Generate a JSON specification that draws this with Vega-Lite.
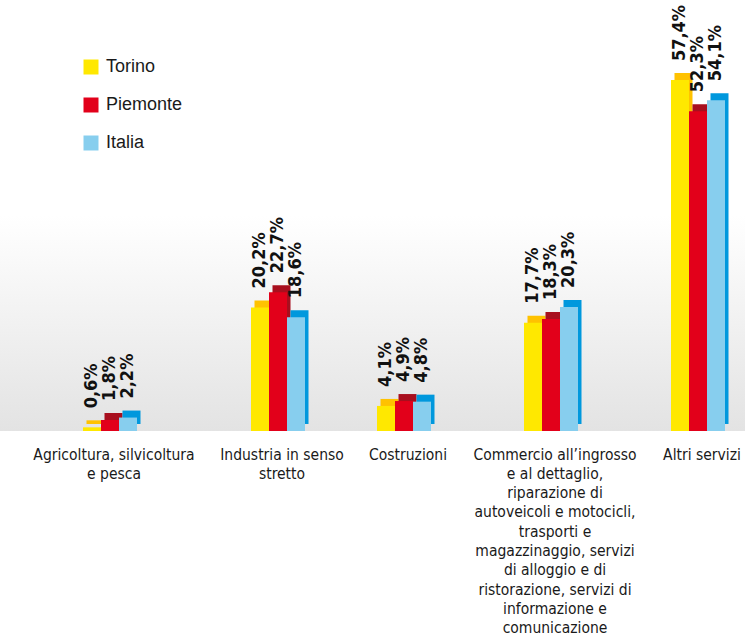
{
  "$schema": "https://vega.github.io/schema/vega-lite/v6.json",
  "width": 745,
  "height": 431,
  "padding": {"left": 0, "top": 0, "right": 0, "bottom": 206},
  "autosize": {"type": "none"},
  "background": "#ffffff",
  "view": {
    "stroke": null,
    "fill": {"gradient": "linear", "x1": 0, "y1": 0, "x2": 0, "y2": 1,
      "stops": [{"offset": 0, "color": "#ffffff"}, {"offset": 0.5, "color": "#ffffff"}, {"offset": 1, "color": "#e3e3e3"}]}
  },
  "data": {
    "values": [
      {"cat": "Agricoltura, silvicoltura|e pesca", "series": "Torino", "value": 0.6},
      {"cat": "Agricoltura, silvicoltura|e pesca", "series": "Piemonte", "value": 1.8},
      {"cat": "Agricoltura, silvicoltura|e pesca", "series": "Italia", "value": 2.2},
      {"cat": "Industria in senso|stretto", "series": "Torino", "value": 20.2},
      {"cat": "Industria in senso|stretto", "series": "Piemonte", "value": 22.7},
      {"cat": "Industria in senso|stretto", "series": "Italia", "value": 18.6},
      {"cat": "Costruzioni", "series": "Torino", "value": 4.1},
      {"cat": "Costruzioni", "series": "Piemonte", "value": 4.9},
      {"cat": "Costruzioni", "series": "Italia", "value": 4.8},
      {"cat": "Commercio all’ingrosso|e al dettaglio,|riparazione di|autoveicoli e motocicli,|trasporti e|magazzinaggio, servizi|di alloggio e di|ristorazione, servizi di|informazione e|comunicazione", "series": "Torino", "value": 17.7},
      {"cat": "Commercio all’ingrosso|e al dettaglio,|riparazione di|autoveicoli e motocicli,|trasporti e|magazzinaggio, servizi|di alloggio e di|ristorazione, servizi di|informazione e|comunicazione", "series": "Piemonte", "value": 18.3},
      {"cat": "Commercio all’ingrosso|e al dettaglio,|riparazione di|autoveicoli e motocicli,|trasporti e|magazzinaggio, servizi|di alloggio e di|ristorazione, servizi di|informazione e|comunicazione", "series": "Italia", "value": 20.3},
      {"cat": "Altri servizi", "series": "Torino", "value": 57.4},
      {"cat": "Altri servizi", "series": "Piemonte", "value": 52.3},
      {"cat": "Altri servizi", "series": "Italia", "value": 54.1}
    ]
  },
  "transform": [
    {"calculate": "replace(format(datum.value, '.1f'), '.', ',') + '%'", "as": "label"}
  ],
  "encoding": {
    "x": {
      "field": "cat", "type": "nominal",
      "scale": {
        "domain": [
          "Agricoltura, silvicoltura|e pesca", "~1", "~2", "~3", "~4", "~5", "~6", "~7",
          "Industria in senso|stretto", "~9", "~10", "~11", "~12", "~13",
          "Costruzioni", "~15", "~16", "~17", "~18", "~19", "~20",
          "Commercio all’ingrosso|e al dettaglio,|riparazione di|autoveicoli e motocicli,|trasporti e|magazzinaggio, servizi|di alloggio e di|ristorazione, servizi di|informazione e|comunicazione",
          "~22", "~23", "~24", "~25", "~26", "~27",
          "Altri servizi"
        ],
        "range": [99.5, 708.5],
        "paddingInner": 0, "paddingOuter": 0
      },
      "axis": {
        "title": null, "labelAngle": 0, "domain": false, "ticks": false, "grid": false,
        "labelFont": "DejaVu Sans Condensed", "labelFontSize": 15.5, "labelColor": "#1a1a1a",
        "labelLineHeight": 19.3, "labelPadding": 16, "labelOffset": 4, "labelLimit": 400,
        "labelBound": false, "labelOverlap": false, "labelFlush": false,
        "labelExpr": "indexof(datum.label, '~') == 0 ? '' : split(datum.label, '|')"
      }
    },
    "y": {"field": "value", "type": "quantitative", "scale": {"domain": [0, 70.5], "nice": false, "zero": true}, "axis": null}
  },
  "layer": [
    {
      "mark": {"type": "bar", "yOffset": -7},
      "encoding": {
        "xOffset": {"field": "series", "type": "nominal", "sort": ["Torino", "Piemonte", "Italia"], "scale": {"range": [-13, 41], "paddingInner": 0, "paddingOuter": 0}},
        "color": {"field": "series", "type": "nominal",
          "scale": {"domain": ["Torino", "Piemonte", "Italia"], "range": ["#FFC200", "#A80F1E", "#0098DD"]},
          "legend": null}
      }
    },
    {
      "encoding": {
        "xOffset": {"field": "series", "type": "nominal", "sort": ["Torino", "Piemonte", "Italia"], "scale": {"range": [-16.5, 37.5], "paddingInner": 0, "paddingOuter": 0}}
      },
      "layer": [
        {
          "mark": {"type": "bar"},
          "encoding": {
            "color": {"field": "series", "type": "nominal",
              "scale": {"domain": ["Torino", "Piemonte", "Italia"], "range": ["#FFE800", "#E2001A", "#87CEEE"]},
              "legend": {
                "title": null, "orient": "none", "legendX": 82, "legendY": 58,
                "symbolType": "square", "symbolSize": 225, "symbolStrokeWidth": 0,
                "labelFont": "Liberation Sans", "labelFontSize": 18, "labelColor": "#1a1a1a",
                "labelOffset": 6, "rowPadding": 20
              }
            }
          }
        },
        {
          "mark": {"type": "text", "angle": 270, "align": "left", "baseline": "middle", "dx": 19,
            "font": "DejaVu Sans Condensed", "fontWeight": "bold", "fontSize": 18, "color": "#111111"},
          "encoding": {"text": {"field": "label", "type": "nominal"}}
        }
      ]
    }
  ],
  "resolve": {"scale": {"color": "independent", "xOffset": "independent"}, "legend": {"color": "independent"}}
}
